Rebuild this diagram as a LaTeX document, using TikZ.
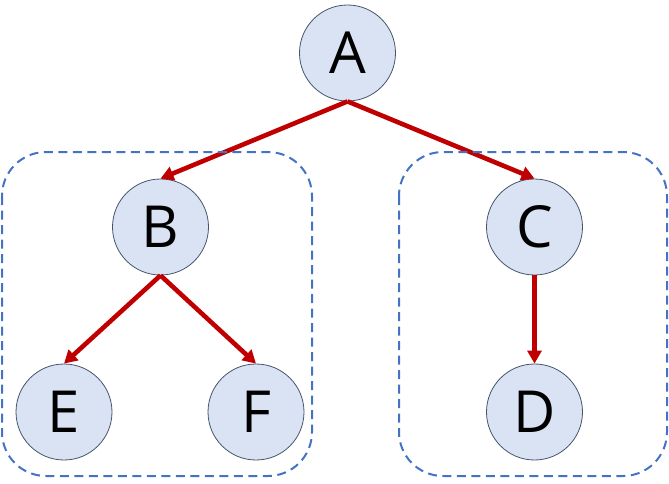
\documentclass[tikz,border=0pt]{standalone}
\usepackage{fontspec}
\setmainfont{Open Sans}
\usetikzlibrary{arrows.meta}
\definecolor{nodefill}{RGB}{218,227,243}
\definecolor{nodeline}{RGB}{68,84,106}
\definecolor{grpblue}{RGB}{68,114,196}
\definecolor{arrred}{RGB}{192,0,0}
\tikzset{
  vert/.style={circle, draw=nodeline, line width=0.8pt, fill=nodefill, minimum size=96pt, inner sep=0pt, font=\fontsize{58}{60}\selectfont},
  grp/.style={draw=grpblue, line width=2pt, dash pattern=on 9pt off 5.5pt, rounded corners=44pt},
  edge/.style={draw=arrred, line width=4.6pt, -{Triangle[length=13pt,width=14pt]}, shorten >=0pt}
}
\begin{document}
\begin{tikzpicture}[x=1pt,y=-1pt]
\useasboundingbox (0,0) rectangle (669,484);
\node[vert] (A) at (347.5,53) {A};
\node[vert] (B) at (160.5,227) {B};
\node[vert] (C) at (534.5,227) {C};
\node[vert] (E) at (64,412) {E};
\node[vert] (F) at (256,412) {F};
\node[vert] (D) at (534.5,412) {D};
\draw[edge] (A.south) -- (B.north);
\draw[edge] (A.south) -- (C.north);
\draw[edge] (B.south) -- (E.north);
\draw[edge] (B.south) -- (F.north);
\draw[edge] (C.south) -- (D.north);
\draw[grp] (2,152) rectangle (312,476);
\draw[grp] (399,152) rectangle (667,476);
\end{tikzpicture}
\end{document}
